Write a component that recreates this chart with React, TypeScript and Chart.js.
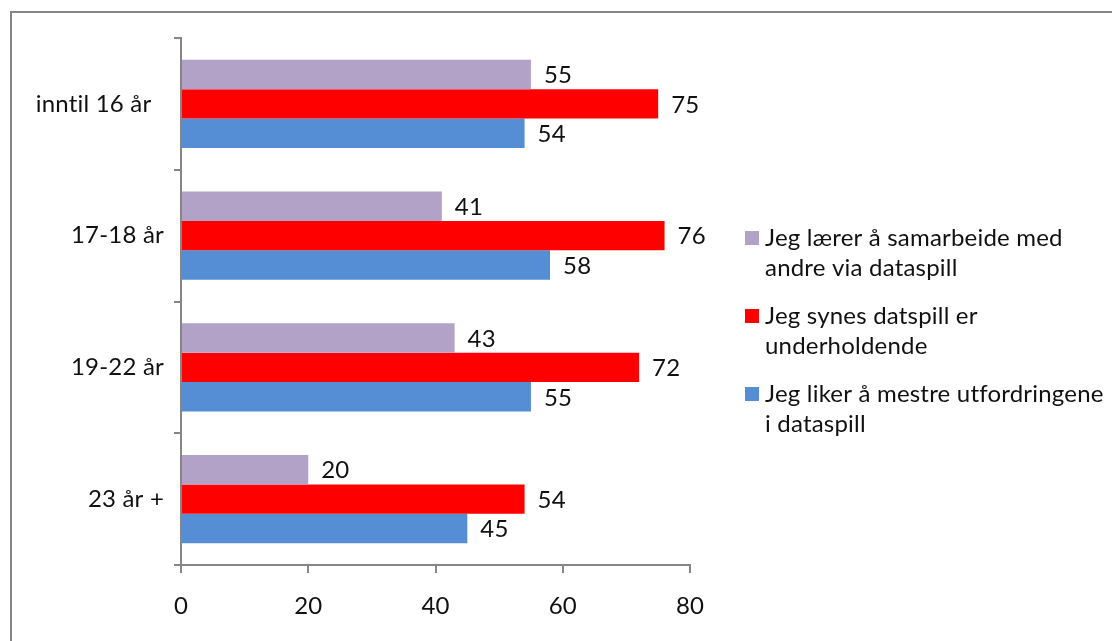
import React, { useEffect, useRef } from "react";
import { Chart, registerables } from "chart.js";

Chart.register(...registerables);

const categories = ["inntil 16 år  ", "17-18 år", "19-22 år", "23 år +"];
const seriesNames = [
  ["Jeg lærer å samarbeide med", "andre via dataspill"],
  ["Jeg synes datspill er", "underholdende"],
  ["Jeg liker å mestre utfordringene", "i dataspill"],
];
const samarbeide = [55, 41, 43, 20];
const underholdende = [75, 76, 72, 54];
const mestre = [54, 58, 55, 45];
const colors = ["#B3A2C7", "#FF0000", "#558ED5"];
const xTicks = [0, 20, 40, 60, 80];

const FONT = "Lato, 'Open Sans', sans-serif";
const FSIZE = 24;
const AXIS = "#868686";
const TEXT = "#111111";

export default function App() {
  const ref = useRef<HTMLCanvasElement | null>(null);

  useEffect(() => {
    document.body.style.margin = "0";
    const canvas = ref.current;
    if (!canvas) return;

    const framePlugin = {
      id: "frame",
      beforeDraw(chart: any) {
        const ctx = chart.ctx;
        try {
          (ctx as any).letterSpacing = "0.2px";
        } catch (e) {}
        ctx.save();
        ctx.fillStyle = "#ffffff";
        ctx.fillRect(0, 0, chart.width, chart.height);
        ctx.strokeStyle = AXIS;
        ctx.lineWidth = 2;
        ctx.beginPath();
        ctx.moveTo(11, chart.height + 5);
        ctx.lineTo(11, 12);
        ctx.lineTo(chart.width + 5, 12);
        ctx.stroke();
        ctx.restore();
      },
    };

    const labelPlugin = {
      id: "valueLabels",
      afterDatasetsDraw(chart: any) {
        const ctx = chart.ctx;
        ctx.save();
        ctx.font = `${FSIZE}px ${FONT}`;
        ctx.fillStyle = TEXT;
        ctx.textAlign = "left";
        ctx.textBaseline = "middle";
        chart.data.datasets.forEach((ds: any, di: number) => {
          const meta = chart.getDatasetMeta(di);
          meta.data.forEach((bar: any, i: number) => {
            ctx.fillText(String(ds.data[i]), bar.x + 13, bar.y + 1);
          });
        });
        ctx.restore();
      },
    };

    const legendPlugin = {
      id: "customLegend",
      afterDraw(chart: any) {
        const ctx = chart.ctx;
        ctx.save();
        ctx.font = `${FSIZE}px ${FONT}`;
        ctx.textAlign = "left";
        ctx.textBaseline = "middle";
        const startY = 238;
        const lineH = 30;
        const entryH = 78;
        seriesNames.forEach((lines, i) => {
          const y0 = startY + i * entryH;
          ctx.fillStyle = colors[i];
          ctx.fillRect(745, y0 - 7, 14, 14);
          ctx.fillStyle = TEXT;
          lines.forEach((t, li) => {
            ctx.fillText(t, 765, y0 + li * lineH);
          });
        });
        ctx.restore();
      },
    };

    const chart = new Chart(canvas, {
      type: "bar",
      data: {
        labels: categories,
        datasets: [
          { label: seriesNames[0].join(" "), data: samarbeide, backgroundColor: colors[0] },
          { label: seriesNames[1].join(" "), data: underholdende, backgroundColor: colors[1] },
          { label: seriesNames[2].join(" "), data: mestre, backgroundColor: colors[2] },
        ],
      },
      options: {
        indexAxis: "y",
        animation: false,
        responsive: false,
        maintainAspectRatio: false,
        devicePixelRatio: 1,
        layout: { padding: { left: 0, top: 38, right: 422, bottom: 0 } },
        datasets: {
          bar: { categoryPercentage: 0.67, barPercentage: 1.0 },
        },
        plugins: {
          legend: { display: false },
          tooltip: { enabled: false },
        },
        scales: {
          x: {
            min: 0,
            max: 80,
            afterFit(scale: any) {
              scale.height = 76;
            },
            afterBuildTicks(scale: any) {
              scale.ticks = xTicks.map((v) => ({ value: v }));
            },
            grid: {
              drawOnChartArea: false,
              drawTicks: true,
              tickLength: 8,
              color: AXIS,
              lineWidth: 2,
            },
            border: { display: true, color: AXIS, width: 2 },
            ticks: {
              color: TEXT,
              font: { family: FONT, size: FSIZE },
              padding: 19,
            },
          },
          y: {
            afterFit(scale: any) {
              scale.width = 181;
            },
            grid: {
              offset: true,
              drawOnChartArea: false,
              drawTicks: true,
              tickLength: 7,
              color: AXIS,
              lineWidth: 2,
            },
            border: { display: true, color: AXIS, width: 2 },
            ticks: {
              color: TEXT,
              font: { family: FONT, size: FSIZE },
              padding: 10,
            },
          },
        },
      },
      plugins: [framePlugin, labelPlugin, legendPlugin],
    } as any);

    return () => chart.destroy();
  }, []);

  return <canvas ref={ref} width={1112} height={641} style={{ display: "block", width: 1112, height: 641 }} />;
}
